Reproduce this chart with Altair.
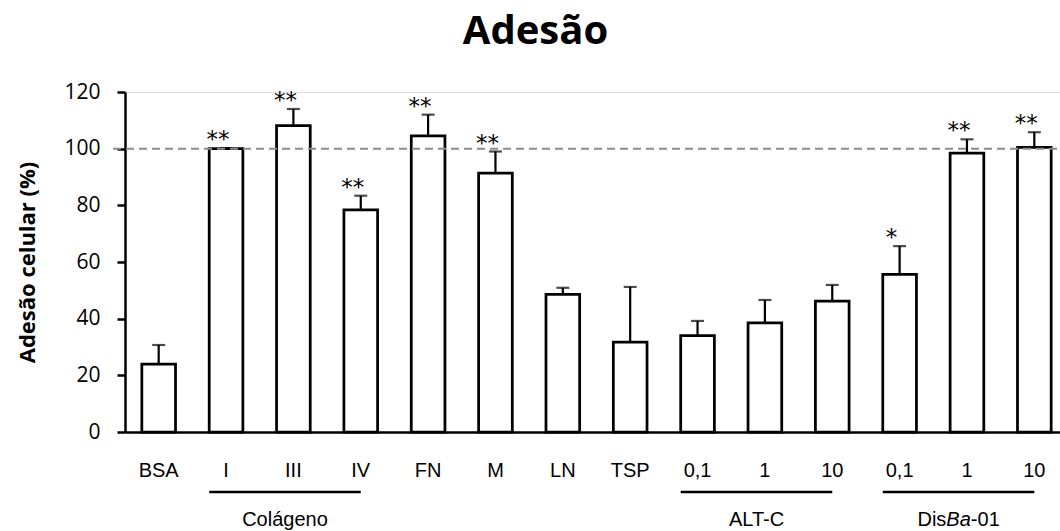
import altair as alt
import pandas as pd

# Bar categories (unique keys) and the tick text printed under each bar
categories = ["BSA", "I", "III", "IV", "FN", "M", "LN", "TSP",
              "ALT-C 0,1", "ALT-C 1", "ALT-C 10",
              "DisBa-01 0,1", "DisBa-01 1", "DisBa-01 10"]
tick_labels = ["BSA", "I", "III", "IV", "FN", "M", "LN", "TSP",
               "0,1", "1", "10", "0,1", "1", "10"]

# Mean adhesion (%) and top of the error bar (%)
means = [24.0, 100.0, 108.1, 78.4, 104.5, 91.4, 48.6, 31.7,
         34.0, 38.5, 46.2, 55.6, 98.4, 100.5]
upper = [30.7, 100.2, 114.0, 83.4, 112.0, 99.0, 50.9, 51.2,
         39.2, 46.6, 51.9, 65.6, 103.3, 105.8]
stars = ["", "**", "**", "**", "**", "**", "", "",
         "", "", "", "*", "**", "**"]

# Grouping brackets under the axis
group_first = ["I", "ALT-C 0,1", "DisBa-01 0,1"]
group_mid = ["III", "ALT-C 1", "DisBa-01 1"]
group_last = ["IV", "ALT-C 10", "DisBa-01 10"]

# Group captions, split into runs so part of a name can be italic
caption_text = ["Colágeno", "ALT-C", "Dis", "Ba", "-01"]
caption_cat = ["III", "ALT-C 1", "DisBa-01 1", "DisBa-01 1", "DisBa-01 1"]
caption_style = ["normal", "normal", "normal", "italic", "normal"]
caption_align = ["center", "center", "right", "left", "left"]
caption_shift = [-8.4, -8.4, -20.6, -20.6, 3.9]

reference_level = [100]

PLOT_W = 935
BAND_RANGE = 943
PLOT_H = 340

bars_df = pd.DataFrame({"cat": categories, "mean": means,
                        "upper": upper, "star": stars})
groups_df = pd.DataFrame({"cat": group_first, "cat_end": group_last})
captions_df = pd.DataFrame({"cat": caption_cat, "text": caption_text,
                            "style": caption_style, "align": caption_align,
                            "shift": caption_shift})
ref_df = pd.DataFrame({"mean": reference_level})

label_map = "{" + ",".join(f"'{c}':'{t}'" for c, t in zip(categories, tick_labels)) + "}"

x_scale = alt.Scale(domain=categories, range=[0, BAND_RANGE],
                    paddingInner=0.5, paddingOuter=0.25)
x_axis = alt.Axis(title=None, labelExpr=f"{label_map}[datum.value]",
                  labelAngle=0, ticks=False, tickSize=0,
                  domainColor="black", domainWidth=2.5,
                  labelFont="Liberation Sans", labelFontSize=20,
                  labelColor="black", labelPadding=44,
                  labelBaseline="alphabetic")
y_scale = alt.Scale(domain=[0, 120], nice=False)
y_axis = alt.Axis(values=[0, 20, 40, 60, 80, 100, 120],
                  title="Adesão celular (%)", grid=False,
                  tickSize=8, tickWidth=2.5, tickColor="black",
                  domainColor="black", domainWidth=2.5,
                  labelFont="Open Sans", labelFontSize=21,
                  labelColor="black", labelPadding=17,
                  titleFont="Open Sans", titleFontSize=22,
                  titleFontWeight="bold", titleColor="black",
                  titleX=-98, titleY=170, titleAngle=270,
                  titleAlign="center", titleBaseline="middle")


def xenc(field="cat:N", **kw):
    return alt.X(field, scale=x_scale, axis=x_axis, sort=categories, **kw)


def yenc(field="mean:Q"):
    return alt.Y(field, scale=y_scale, axis=y_axis)


base = alt.Chart(bars_df)

bars = base.mark_bar(fill="white", stroke="black", strokeWidth=2.75).encode(
    x=xenc(), y=yenc())

err = base.mark_rule(color="black", strokeWidth=2.2).encode(
    x=xenc(), y=yenc(), y2="upper:Q")

caps = base.mark_tick(color="black", thickness=2.2, size=13).encode(
    x=xenc(), y=yenc("upper:Q"))

star_text = base.mark_text(font="DejaVu Sans", fontSize=23, dx=-8, dy=-1,
                           baseline="alphabetic", color="black").encode(
    x=xenc(), y=yenc("upper:Q"), text="star:N")

ref_line = alt.Chart(ref_df).mark_rule(
    color="#8c8c8c", strokeWidth=2, strokeDash=[8, 5]).encode(
    y=yenc(), x=alt.value(-12), x2=alt.value(PLOT_W))

brackets = alt.Chart(groups_df).mark_rule(color="black", strokeWidth=2.5).encode(
    x=xenc(bandPosition=0), x2=alt.X2("cat_end:N", bandPosition=0.5),
    y=alt.value(400))

captions = []
for i in range(len(caption_text)):
    row = captions_df.iloc[[i]]
    captions.append(
        alt.Chart(row).mark_text(
            font="Liberation Sans", fontSize=20, color="black",
            baseline="alphabetic", align=caption_align[i],
            fontStyle=caption_style[i], dx=caption_shift[i]).encode(
            x=xenc(), y=alt.value(434), text="text:N"))

chart = alt.layer(bars, err, caps, ref_line, star_text, brackets, *captions).properties(
    width=PLOT_W, height=PLOT_H,
    title=alt.TitleParams("Adesão", font="Open Sans", fontSize=40,
                          fontWeight="bold", color="black", anchor="middle",
                          frame="group", dx=-57, offset=29),
    autosize=alt.AutoSizeParams(type="none"),
    padding={"left": 125, "top": 92, "right": 0, "bottom": 99},
).configure_view(stroke=None).configure(background="white")

chart.save("out.html", embed_options={"renderer": "svg", "actions": False})
